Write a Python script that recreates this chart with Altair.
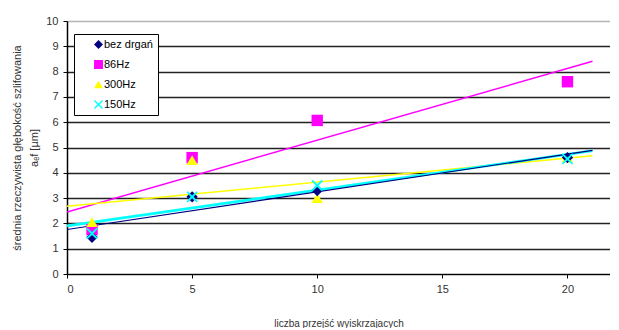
import altair as alt
import pandas as pd

series_names = ["bez drgań", "86Hz", "300Hz", "150Hz"]
series_colors = ["#000080", "#FF00FF", "#FFFF00", "#00FFFF"]
x_passes = [1, 5, 10, 20]
bez_drgan = [1.45, 3.05, 3.3, 4.6]
hz86 = [1.75, 4.6, 6.07, 7.6]
hz300 = [2.05, 4.5, 3.0, 4.6]
hz150 = [1.6, 3.05, 3.5, 4.55]
x_ticks = [0, 5, 10, 15, 20]
y_ticks = [0, 1, 2, 3, 4, 5, 6, 7, 8, 9, 10]

values = {"bez drgań": bez_drgan, "86Hz": hz86, "300Hz": hz300, "150Hz": hz150}
draw_order = ["86Hz", "300Hz", "bez drgań", "150Hz"]
rows = []
for s in draw_order:
    for xv, yv in zip(x_passes, values[s]):
        rows.append({"x": xv, "y": yv, "series": s})
df = pd.DataFrame(rows)

X_SHAPE = "M-1,-0.8L-0.8,-1L0,-0.25L0.8,-1L1,-0.8L0.25,0L1,0.8L0.8,1L0,0.25L-0.8,1L-1,0.8L-0.25,0Z"
shapes = ["diamond", "square", "triangle-up", X_SHAPE]

xscale = alt.Scale(domain=[0, 21.7], nice=False, zero=False)
yscale = alt.Scale(domain=[0, 10], nice=False)

base = alt.Chart(df)

grid_color = {"condition": {"test": "datum.value >= 10", "value": "#b4b4b4"}, "value": "#222222"}

xaxis = alt.Axis(values=x_ticks, grid=False, tickSize=4, tickColor="black", domainColor="black",
                 labelFont="Liberation Sans", labelFontSize=11, labelColor="#333", labelPadding=5,
                 title="liczba przejść wyiskrzajacych", titleFont="Liberation Sans",
                 titleFontSize=10, titleFontWeight="normal", titleColor="#333", titlePadding=24)
yaxis = alt.Axis(values=y_ticks, grid=True, gridColor=grid_color, gridWidth=1.5,
                 tickSize=4, tickColor="black", domainColor="black", domainWidth=1.5,
                 labelFont="Liberation Sans", labelFontSize=11, labelColor="#333", labelPadding=5,
                 title=["średnia rzeczywista głębokość szlifowania", "aₑf [µm]"],
                 titleFont="Liberation Sans", titleFontSize=11, titleFontWeight="normal",
                 titleColor="#333", titleLineHeight=17, titlePadding=6)

X = alt.X("x:Q", scale=xscale, axis=xaxis)
Y = alt.Y("y:Q", scale=yscale, axis=yaxis)

layers = []
line_order = ["86Hz", "300Hz", "150Hz", "bez drgań"]
widths = {"86Hz": 1.5, "300Hz": 1.5, "150Hz": 2.6, "bez drgań": 1.2}
for s in line_order:
    c = series_colors[series_names.index(s)]
    ln = base.transform_filter(alt.datum.series == s).transform_regression(
        "x", "y", extent=[0, 21]
    ).mark_line(color=c, strokeWidth=widths[s], clip=True).encode(x=X, y=Y)
    layers.append(ln)

pts = base.mark_point(filled=True, opacity=1, size=130, strokeWidth=0).encode(
    x=X,
    y=Y,
    color=alt.Color("series:N", scale=alt.Scale(domain=series_names, range=series_colors),
                    legend=alt.Legend(title=None, orient="none", legendX=7, legendY=13,
                                      fillColor="white", strokeColor="black",
                                      padding=5, symbolOffset=14,
                                      labelFont="Liberation Sans", labelFontSize=11,
                                      labelColor="black", symbolSize=80, rowPadding=8,
                                      labelOffset=0, offset=0, symbolStrokeWidth=0,
                                      labelExpr="datum.label + '\u00a0\u00a0\u00a0\u00a0\u00a0\u00a0'")),
    shape=alt.Shape("series:N", scale=alt.Scale(domain=series_names, range=shapes)),
)
layers.append(pts)

chart = alt.layer(*layers).properties(
    width=543, height=253,
    padding={"left": 3, "top": 7, "right": 0, "bottom": 0},
).configure_view(stroke=None).configure(background="white")

chart.save("out.html", embed_options={"renderer": "svg", "actions": False})
